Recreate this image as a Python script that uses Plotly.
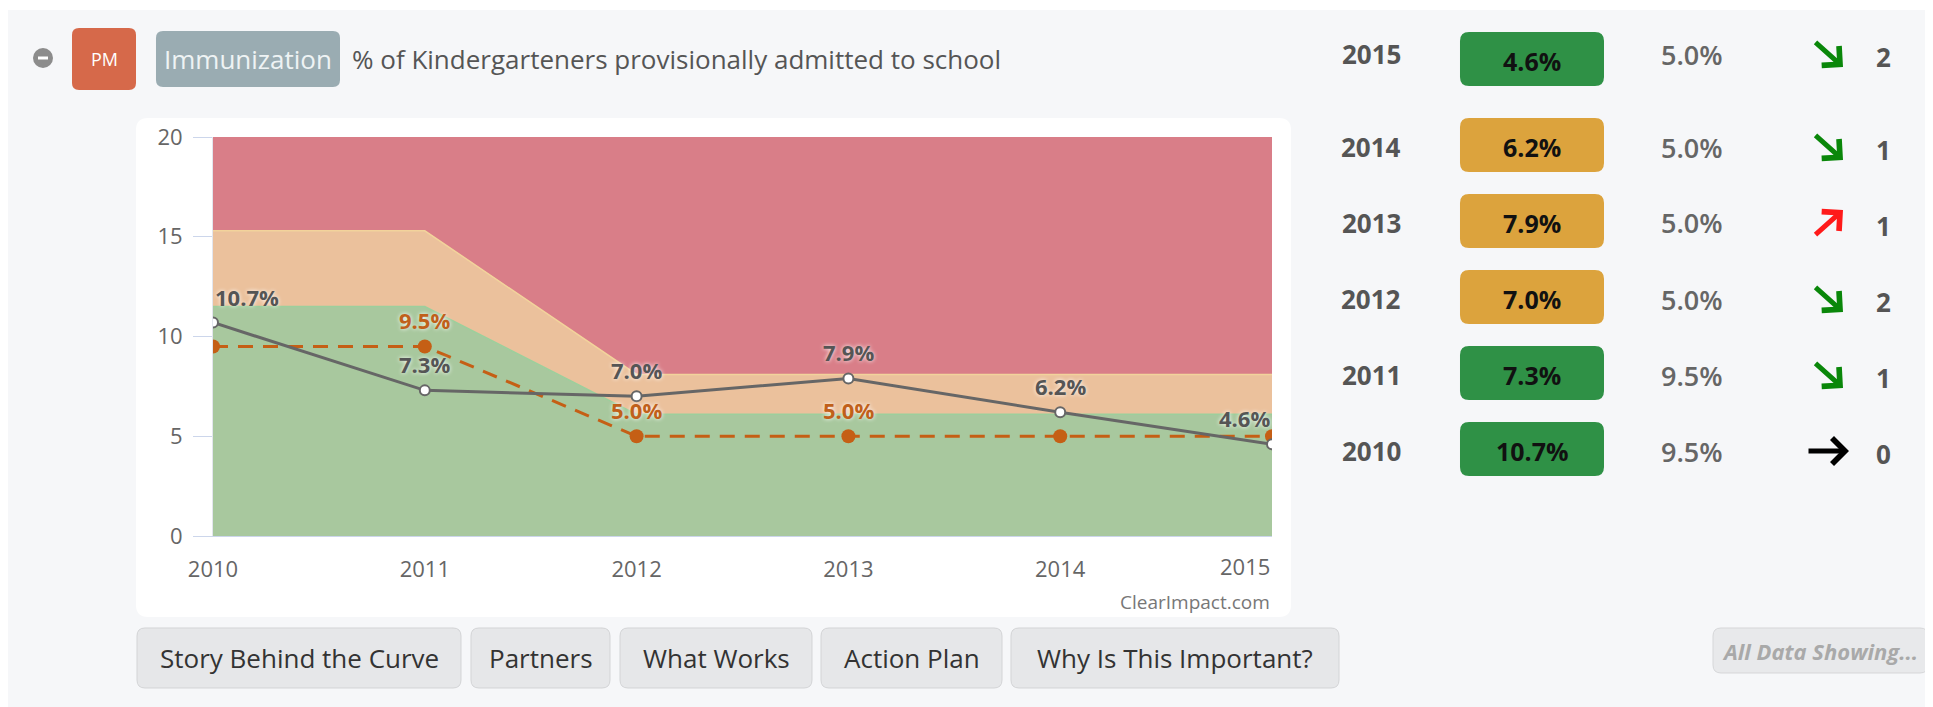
import plotly.graph_objects as go

W, H = 1933, 707
OFF = 8  # the page body adds an 8px margin around the figure

# chart data
years = [2010, 2011, 2012, 2013, 2014, 2015]
actual = [10.7, 7.3, 7.0, 7.9, 6.2, 4.6]
target = [9.5, 9.5, 5.0, 5.0, 5.0, 5.0]
green_upper = [11.5, 11.5, 6.1, 6.1, 6.1, 6.1]
orange_upper = [15.3, 15.3, 8.1, 8.1, 8.1, 8.1]
red_upper = [20, 20, 20, 20, 20, 20]
y_ticks = [0, 5, 10, 15, 20]
target_label_idx = [1, 2, 3]

# right-hand table, newest first
table_years = [2015, 2014, 2013, 2012, 2011, 2010]
table_actual = [4.6, 6.2, 7.9, 7.0, 7.3, 10.7]
table_target = [5.0, 5.0, 5.0, 5.0, 9.5, 9.5]
table_status = ["good", "warn", "warn", "warn", "good", "good"]
table_trend = ["down", "down", "up", "down", "down", "flat"]
table_count = [2, 1, 1, 2, 1, 0]

buttons = ["Story Behind the Curve", "Partners", "What Works", "Action Plan", "Why Is This Important?"]

FONT = "Open Sans"
GREY_TXT = "#555555"
LINE_GREY = "#666666"
ORANGE = "#c55f15"


def px(x):
    return (x - OFF) / W


def py(y):
    return 1 - (y - OFF) / H


def rrect(x0, y0, x1, y1, r):
    pts = [
        ("M", [(x0 + r, y0)]), ("L", [(x1 - r, y0)]), ("Q", [(x1, y0), (x1, y0 + r)]),
        ("L", [(x1, y1 - r)]), ("Q", [(x1, y1), (x1 - r, y1)]), ("L", [(x0 + r, y1)]),
        ("Q", [(x0, y1), (x0, y1 - r)]), ("L", [(x0, y0 + r)]), ("Q", [(x0, y0), (x0 + r, y0)]),
    ]
    s = ""
    for cmd, pp in pts:
        s += cmd + " ".join(f"{px(a):.5f},{py(b):.5f}" for a, b in pp) + " "
    return s + "Z"


shapes = []
annots = []


def box(x0, y0, x1, y1, r, fill, line=None):
    shapes.append(dict(type="path", path=rrect(x0, y0, x1, y1, r), xref="paper", yref="paper",
                       fillcolor=fill, line=dict(color=line or fill, width=1 if line else 0),
                       layer="below"))


def text(x, y, s, size, color, weight="normal", xanchor="center", style="normal", font=FONT):
    annots.append(dict(x=px(x), y=py(y), xref="paper", yref="paper", text=s, showarrow=False,
                       xanchor=xanchor, yanchor="middle",
                       font=dict(family=font, size=size, color=color, weight=weight, style=style)))


# page background and chart card
box(8, 10, 1927, 740, 0, "#f6f7f9")
box(136, 118, 1291, 617, 12, "#ffffff")

# header
shapes.append(dict(type="circle", xref="paper", yref="paper", x0=px(33), x1=px(53), y0=py(48), y1=py(68),
                   fillcolor="#8c8c8c", line=dict(width=0), layer="below"))
shapes.append(dict(type="line", xref="paper", yref="paper", x0=px(38), x1=px(48), y0=py(58), y1=py(58),
                   line=dict(color="white", width=3), layer="below"))
box(72, 28, 136, 90, 7, "#d6694a")
text(104, 59, "PM", 18, "white")
box(156, 31, 340, 87, 7, "#9aacb2")
text(248, 59, "Immunization", 26, "#eef3f4")
text(350, 59, "% of Kindergarteners provisionally admitted to school", 26, GREY_TXT, xanchor="left")

# right-hand table
row_y = [59, 145, 221, 297, 373, 449]
status_col = {"good": "#2f9146", "warn": "#dca33d"}
trend_col = {"down": "#0a870a", "up": "#ff1a1a", "flat": "#000000"}
for i, yr in enumerate(table_years):
    cy = row_y[i]
    ty = cy - 5 if i == 0 else cy + 2
    text(1371, ty, str(yr), 26, GREY_TXT, weight="bold")
    box(1460, cy - 27, 1604, cy + 27, 9, status_col[table_status[i]])
    text(1532, cy + 2, f"{table_actual[i]:.1f}%", 25, "#111111", weight="bold")
    text(1692, ty, f"{table_target[i]:.1f}%", 27, "#666666", weight=600)
    text(1883, ty + 3, str(table_count[i]), 26, GREY_TXT, weight="bold")
    tr = table_trend[i]
    if tr == "down":
        tail, tip = (1814, ty - 13), (1843, ty + 13)
    elif tr == "up":
        tail, tip = (1814, ty + 13), (1843, ty - 13)
    else:
        tail, tip = (1807, ty), (1849, ty)
    annots.append(dict(x=px(tip[0]), y=py(tip[1]), xref="paper", yref="paper",
                       ax=tail[0] - tip[0], ay=tail[1] - tip[1], axref="pixel", ayref="pixel",
                       text="", showarrow=True, arrowhead=4, arrowsize=1, arrowwidth=5,
                       arrowcolor=trend_col[tr]))

# buttons below chart
btn_x = [(137, 461), (471, 610), (620, 812), (821, 1002), (1011, 1339)]
for label, (x0, x1) in zip(buttons, btn_x):
    box(x0, 628, x1, 688, 8, "#e6e7e9", "#d3d4d6")
    text((x0 + x1) / 2, 658, label, 26, "#333333", weight=500)
box(1713, 628, 1928, 673, 8, "#e8e9eb", "#d6d7d9")
text(1820, 651, "All Data Showing...", 22, "#a9a9a9", weight="bold", style="italic")

text(1272, 602, "ClearImpact.com", 19, "#777777", xanchor="right")

fig = go.Figure()

# performance bands
fig.add_trace(go.Scatter(x=years, y=green_upper, mode="lines", fill="tozeroy", fillcolor="#a8c89e",
                         line=dict(color="#9ccf9c", width=1.5), hoverinfo="skip"))
fig.add_trace(go.Scatter(x=years, y=orange_upper, mode="lines", fill="tonexty", fillcolor="#ebc19c",
                         line=dict(color="#f2d39b", width=1.5), hoverinfo="skip"))
fig.add_trace(go.Scatter(x=years, y=red_upper, mode="lines", fill="tonexty", fillcolor="#d97e88",
                         line=dict(color="#d97e88", width=0), hoverinfo="skip"))

# target and actual lines
fig.add_trace(go.Scatter(x=years, y=target, mode="lines+markers",
                         line=dict(color=ORANGE, width=3, dash="15px,10px"),
                         marker=dict(size=14, color=ORANGE)))
fig.add_trace(go.Scatter(x=years, y=actual, mode="lines+markers",
                         line=dict(color=LINE_GREY, width=3),
                         marker=dict(size=10, color="white", line=dict(color=LINE_GREY, width=2))))


def data_label(i, v, color):
    anchor = "left" if i == 0 else ("right" if i == len(years) - 1 else "center")
    annots.append(dict(x=years[i], y=v, xref="x", yref="y", text=f"{v:.1f}%", showarrow=False,
                       xanchor=anchor, yanchor="middle", yshift=26, xshift=0,
                       font=dict(family=FONT, size=22, color=color, weight="bold",
                                 shadow="0px 0px 4px white")))


for i in target_label_idx:
    data_label(i, target[i], "#c0601a")
for i, v in enumerate(actual):
    data_label(i, v, GREY_TXT)

# last x tick label kept inside the plot like the original
annots.append(dict(x=years[-1], y=0, xref="x", yref="y", text=str(years[-1]), showarrow=False,
                   xanchor="right", yanchor="middle", yshift=-30,
                   font=dict(family=FONT, size=22, color="#666666")))

fig.update_layout(
    width=W, height=H, margin=dict(l=0, r=0, t=0, b=0),
    paper_bgcolor="white", plot_bgcolor="rgba(0,0,0,0)",
    showlegend=False, shapes=shapes, annotations=annots,
    font=dict(family=FONT, color="#666666"),
    xaxis=dict(domain=[px(213), px(1272)], range=[2010, 2015], tickvals=years[:-1],
               ticktext=[str(y) for y in years[:-1]], showgrid=False, zeroline=False,
               showline=True, linecolor="#ccd6eb", ticks="", ticklabelstandoff=14,
               automargin=False, tickfont=dict(size=22, color="#666666")),
    yaxis=dict(domain=[py(536), py(137)], range=[0, 20], tickvals=y_ticks, showgrid=False,
               zeroline=False, showline=True, linecolor="#e3e6ee", ticks="outside", ticklen=19,
               tickcolor="#ccd6eb", ticklabelstandoff=6, automargin=False,
               tickfont=dict(size=22, color="#666666")),
)

fig.write_html("out.html")
